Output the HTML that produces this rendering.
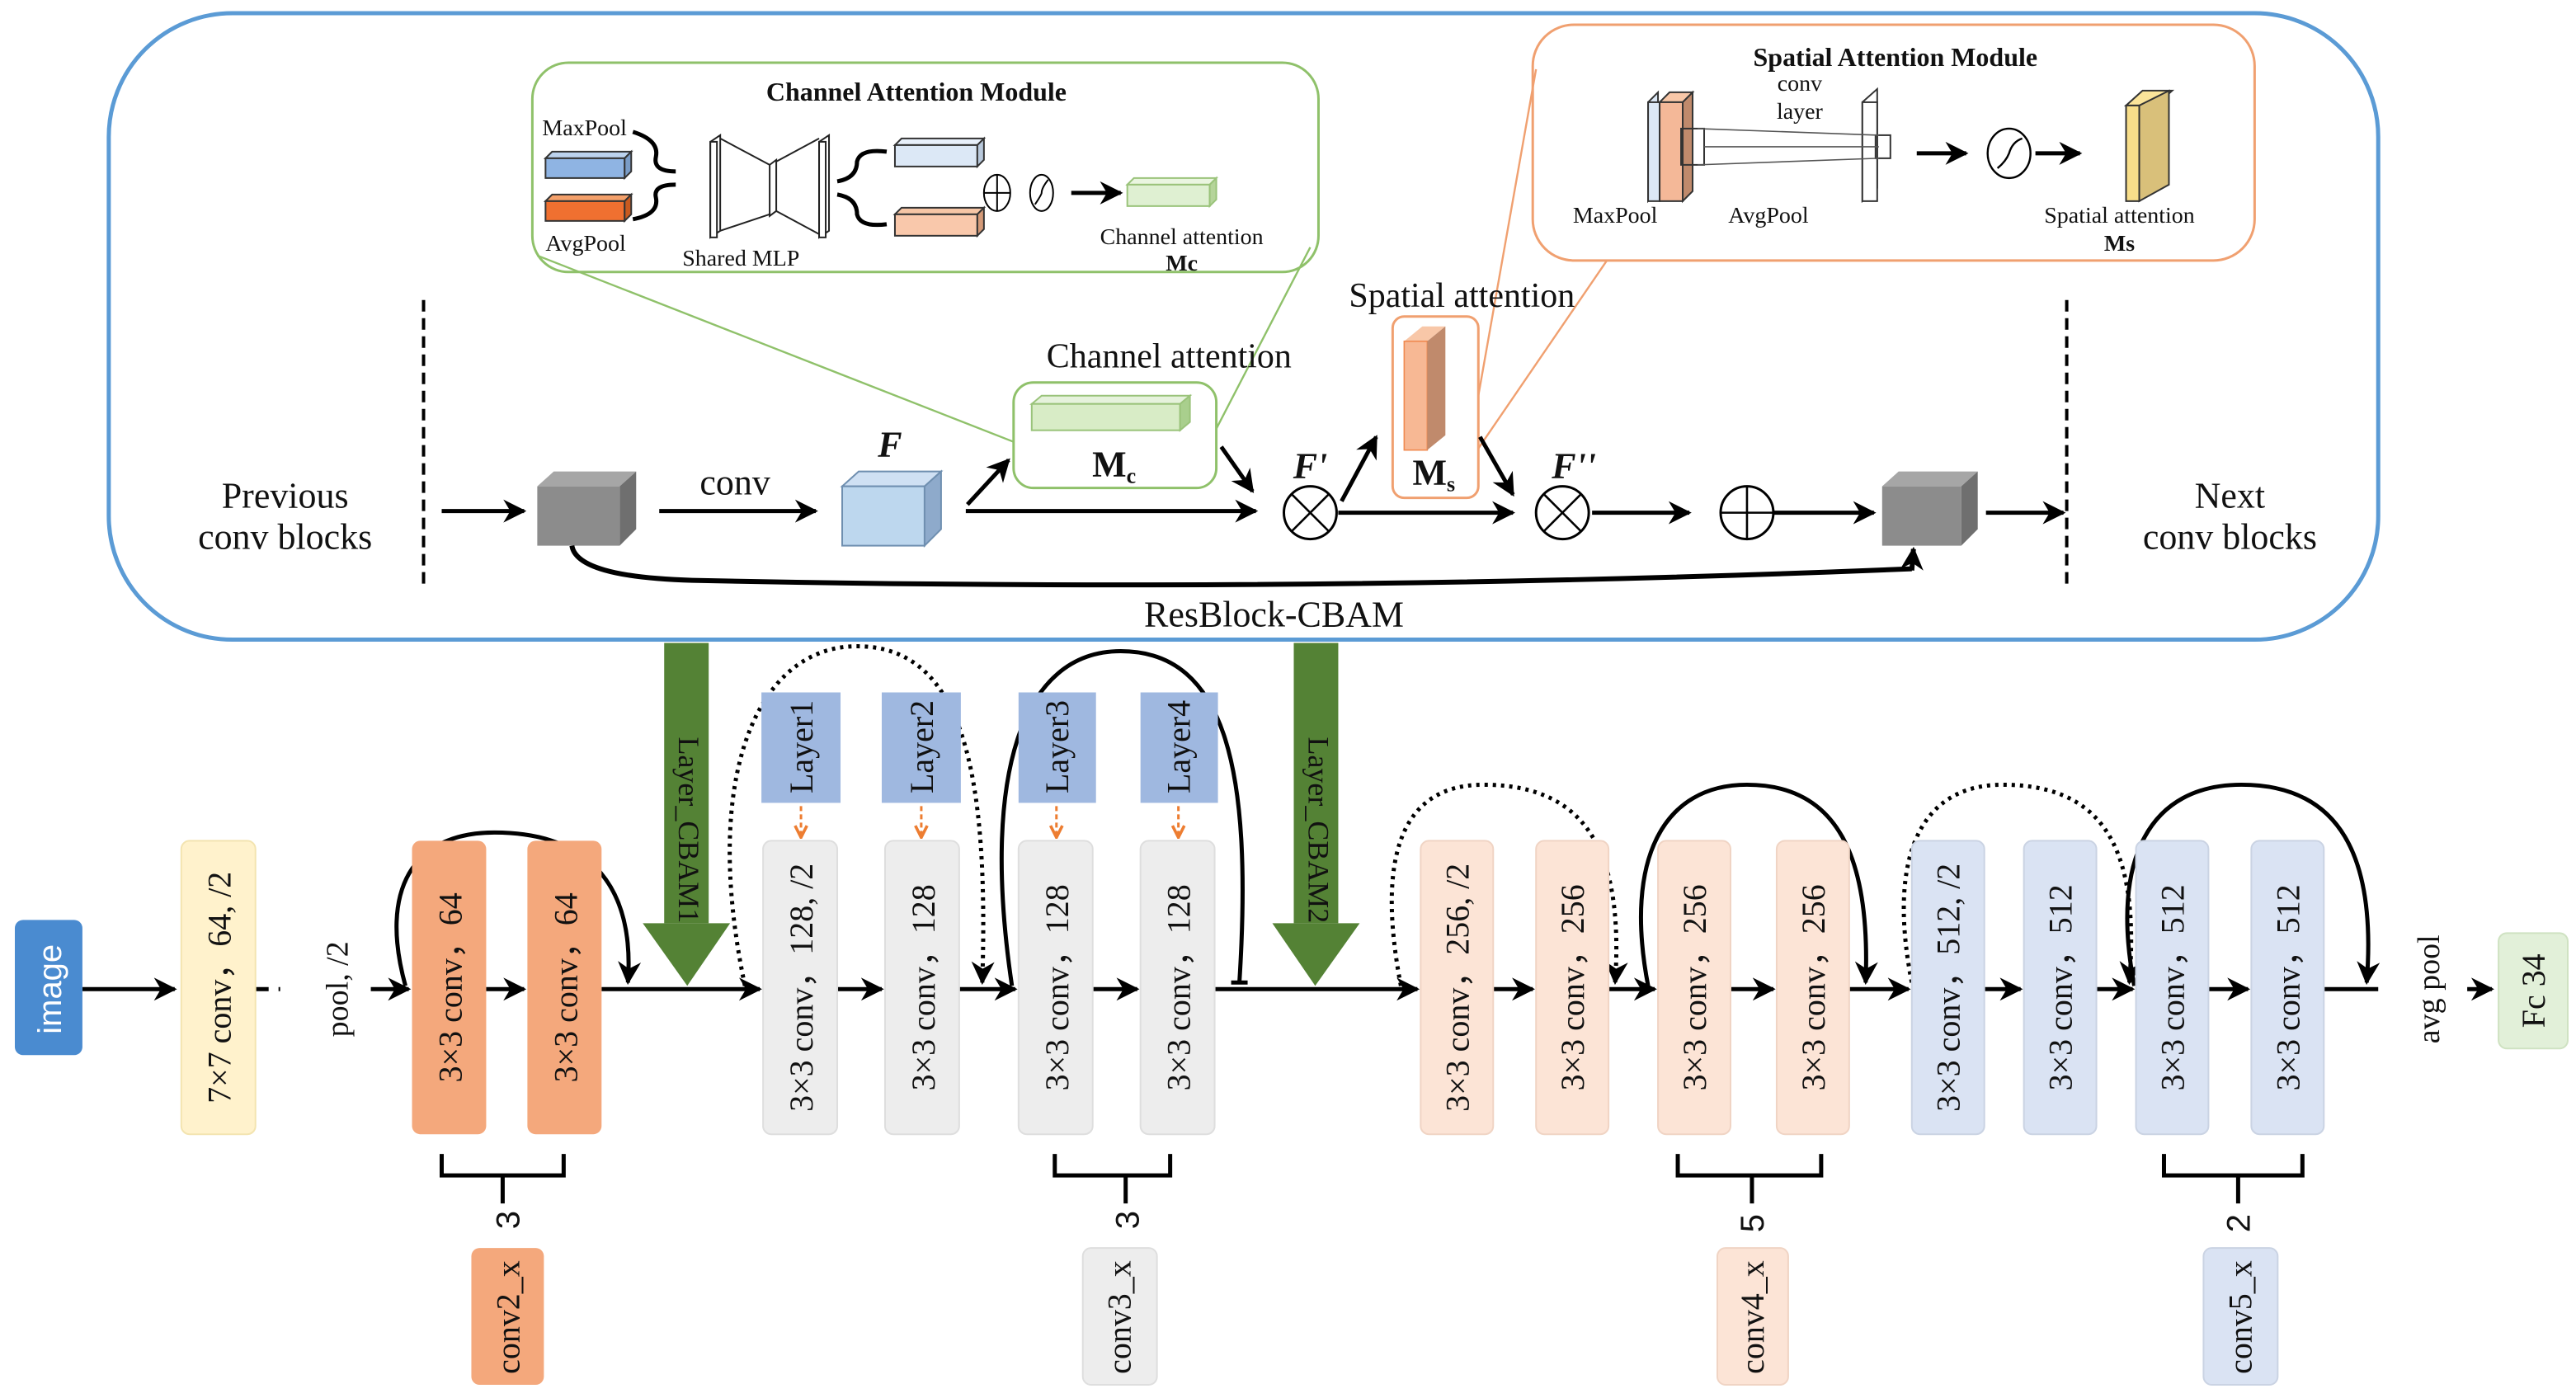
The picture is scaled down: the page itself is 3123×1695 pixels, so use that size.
<!DOCTYPE html>
<html><head><meta charset="utf-8"><style>
html,body{margin:0;padding:0;background:#fff}
svg{display:block}
text{font-family:"Liberation Serif",serif;fill:#111}
</style></head><body>
<svg width="3123" height="1695" viewBox="0 0 1563 848" preserveAspectRatio="none" xmlns="http://www.w3.org/2000/svg">
<defs>
<marker id="a" viewBox="0 0 10 10" refX="9" refY="5" markerWidth="5" markerHeight="5" orient="auto-start-reverse" markerUnits="userSpaceOnUse">
<path d="M0,0 L10,5 L0,10 L3,5 Z" fill="#000"/></marker>
<marker id="ab" viewBox="0 0 10 10" refX="9" refY="5" markerWidth="14" markerHeight="14" orient="auto" markerUnits="userSpaceOnUse">
<path d="M0,0 L10,5 L0,10 L3,5 Z" fill="#000"/></marker>
<marker id="ao" viewBox="0 0 10 10" refX="9" refY="5" markerWidth="9" markerHeight="9" orient="auto" markerUnits="userSpaceOnUse">
<path d="M1,1 L9,5 L1,9" fill="none" stroke="#ed7d31" stroke-width="2"/></marker>
</defs>

<!-- outer box -->
<rect x="66" y="8" width="1377" height="380" rx="75" fill="none" stroke="#5b9bd5" stroke-width="2.5"/>

<!-- CAM box -->
<rect x="323" y="38" width="477" height="127" rx="22" fill="none" stroke="#8fc16a" stroke-width="1.5"/>
<line x1="326" y1="155" x2="615" y2="268" stroke="#8fc16a" stroke-width="1.2"/>
<line x1="795" y1="150" x2="737" y2="262" stroke="#8fc16a" stroke-width="1.2"/>
<text x="556" y="61" font-size="16" font-weight="bold" text-anchor="middle">Channel Attention Module</text>
<text x="329" y="82" font-size="14">MaxPool</text>
<text x="331" y="152" font-size="14">AvgPool</text>
<text x="414" y="161" font-size="14">Shared MLP</text>
<!-- blue box -->
<polygon points="331,96 335,92 383,92 379,96" fill="#bcd3ee" stroke="#333" stroke-width="1"/>
<rect x="331" y="96" width="48" height="12" fill="#8fb4e3" stroke="#333" stroke-width="1"/>
<polygon points="379,96 383,92 383,104 379,108" fill="#7a9cc6" stroke="#333" stroke-width="1"/>
<polygon points="331,122 335,118 383,118 379,122" fill="#f4a06a" stroke="#333" stroke-width="1"/>
<rect x="331" y="122" width="48" height="12" fill="#f07030" stroke="#333" stroke-width="1"/>
<polygon points="379,122 383,118 383,130 379,134" fill="#c85a20" stroke="#333" stroke-width="1"/>
<path d="M384,80 Q400,85 398,95 Q396,104 410,104" fill="none" stroke="#000" stroke-width="2.5"/>
<path d="M384,133 Q400,130 398,120 Q396,112 410,112" fill="none" stroke="#000" stroke-width="2.5"/>
<!-- MLP -->
<g fill="none" stroke="#222" stroke-width="1">
<polygon points="431,86 437,82 437,140 431,144"/><rect x="431" y="86" width="4" height="58" fill="#fff"/>
<polygon points="467,100 471,97 471,128 467,131"/>
<polygon points="497,86 503,82 503,140 497,144"/><rect x="497" y="86" width="4" height="58" fill="#fff"/>
<line x1="437" y1="84" x2="467" y2="100"/><line x1="437" y1="140" x2="467" y2="130"/>
<line x1="471" y1="98" x2="497" y2="84"/><line x1="471" y1="128" x2="497" y2="142"/>
</g>
<path d="M508,110 Q520,108 520,98 Q522,90 538,92" fill="none" stroke="#000" stroke-width="2.5"/>
<path d="M508,118 Q520,120 520,130 Q522,138 538,136" fill="none" stroke="#000" stroke-width="2.5"/>
<polygon points="543,88 547,84 597,84 593,88" fill="#e8f0fa" stroke="#333" stroke-width="1"/>
<rect x="543" y="88" width="50" height="13" fill="#dce8f6" stroke="#333" stroke-width="1"/>
<polygon points="593,88 597,84 597,97 593,101" fill="#b9c9dc" stroke="#333" stroke-width="1"/>
<polygon points="543,130 547,126 597,126 593,130" fill="#f6c6a6" stroke="#333" stroke-width="1"/>
<rect x="543" y="130" width="50" height="13" fill="#f9c8ab" stroke="#333" stroke-width="1"/>
<polygon points="593,130 597,126 597,139 593,143" fill="#d49a78" stroke="#333" stroke-width="1"/>
<ellipse cx="605" cy="117" rx="8" ry="11" fill="none" stroke="#000" stroke-width="1"/>
<line x1="597" y1="117" x2="613" y2="117" stroke="#000"/><line x1="605" y1="106" x2="605" y2="128" stroke="#000"/>
<ellipse cx="632" cy="117" rx="7" ry="11" fill="none" stroke="#000" stroke-width="1"/>
<path d="M628,124 Q632,118 632,117 Q632,114 636,109" fill="none" stroke="#000"/>
<line x1="650" y1="117" x2="680" y2="117" stroke="#000" stroke-width="2.5" marker-end="url(#ab)"/>
<polygon points="684,112 688,108 738,108 734,112" fill="#eaf5e0" stroke="#9ac37a" stroke-width="1"/>
<rect x="684" y="112" width="50" height="13" fill="#dff0d2" stroke="#9ac37a" stroke-width="1"/>
<polygon points="734,112 738,108 738,121 734,125" fill="#b5d49a" stroke="#9ac37a" stroke-width="1"/>
<text x="717" y="148" font-size="14" text-anchor="middle">Channel attention</text>
<text x="717" y="164" font-size="14" font-weight="bold" text-anchor="middle">Mc</text>

<!-- SAM box -->
<rect x="930" y="15" width="438" height="143" rx="25" fill="none" stroke="#f0a070" stroke-width="1.5"/>
<line x1="932" y1="42" x2="897" y2="240" stroke="#f0a070" stroke-width="1.2"/>
<line x1="975" y1="158" x2="897" y2="272" stroke="#f0a070" stroke-width="1.2"/>
<text x="1150" y="40" font-size="16" font-weight="bold" text-anchor="middle">Spatial Attention Module</text>
<text x="1092" y="55" font-size="14" text-anchor="middle">conv</text>
<text x="1092" y="72" font-size="14" text-anchor="middle">layer</text>
<polygon points="1000,62 1006,56 1006,116 1000,122" fill="#dce8f6" stroke="#333" stroke-width="1"/>
<rect x="1000" y="62" width="7" height="60" fill="#dce8f6" stroke="#333" stroke-width="1"/>
<polygon points="1007,62 1013,56 1027,56 1021,62" fill="#f8c7a8" stroke="#333" stroke-width="1"/>
<rect x="1007" y="62" width="14" height="60" fill="#f4b898" stroke="#333" stroke-width="1"/>
<polygon points="1021,62 1027,56 1027,116 1021,122" fill="#c08a6c" stroke="#333" stroke-width="1"/>
<rect x="1020" y="78" width="14" height="22" fill="none" stroke="#333" stroke-width="1"/>
<polygon points="1130,62 1139,54 1139,114 1130,122" fill="#fff" stroke="#333" stroke-width="1"/>
<rect x="1130" y="62" width="9" height="60" fill="#fff" stroke="#333" stroke-width="1"/>
<rect x="1138" y="82" width="9" height="14" fill="none" stroke="#333" stroke-width="1"/>
<g stroke="#555" stroke-width="0.8"><line x1="1030" y1="78" x2="1140" y2="82"/><line x1="1030" y1="100" x2="1140" y2="96"/><line x1="1034" y1="89" x2="1140" y2="89"/></g>
<line x1="1163" y1="93" x2="1193" y2="93" stroke="#000" stroke-width="2.5" marker-end="url(#ab)"/>
<ellipse cx="1219" cy="93" rx="13" ry="15" fill="none" stroke="#000" stroke-width="1.2"/>
<path d="M1212,102 Q1217,98 1219,93 Q1221,86 1227,84" fill="none" stroke="#000" stroke-width="1.2"/>
<line x1="1235" y1="93" x2="1262" y2="93" stroke="#000" stroke-width="2.5" marker-end="url(#ab)"/>
<polygon points="1290,64 1300,55 1318,55 1308,64" fill="#fbe49a" stroke="#333" stroke-width="1"/>
<rect x="1290" y="64" width="8" height="58" fill="#f8de8a" stroke="#333" stroke-width="1"/>
<polygon points="1298,64 1316,55 1316,112 1298,122" fill="#d9c07a" stroke="#333" stroke-width="1"/>
<text x="980" y="135" font-size="14" text-anchor="middle">MaxPool</text>
<text x="1073" y="135" font-size="14" text-anchor="middle">AvgPool</text>
<text x="1286" y="135" font-size="14" text-anchor="middle">Spatial attention</text>
<text x="1286" y="152" font-size="14" font-weight="bold" text-anchor="middle">Ms</text>

<!-- main resblock row -->
<line x1="257" y1="182" x2="257" y2="358" stroke="#000" stroke-width="2" stroke-dasharray="7,4"/>
<line x1="1254" y1="182" x2="1254" y2="358" stroke="#000" stroke-width="2" stroke-dasharray="7,4"/>
<text x="173" y="308" font-size="22" text-anchor="middle">Previous</text>
<text x="173" y="333" font-size="22" text-anchor="middle">conv blocks</text>
<text x="1353" y="308" font-size="22" text-anchor="middle">Next</text>
<text x="1353" y="333" font-size="22" text-anchor="middle">conv blocks</text>
<line x1="268" y1="310" x2="318" y2="310" stroke="#000" stroke-width="2.5" marker-end="url(#ab)"/>
<!-- gray cube1 -->
<polygon points="326,295 336,286 386,286 376,295" fill="#a6a6a6"/>
<rect x="326" y="295" width="50" height="36" fill="#8c8c8c"/>
<polygon points="376,295 386,286 386,321 376,331" fill="#6f6f6f"/>
<text x="446" y="300" font-size="22" text-anchor="middle">conv</text>
<line x1="400" y1="310" x2="495" y2="310" stroke="#000" stroke-width="2.5" marker-end="url(#ab)"/>
<text x="540" y="277" font-size="22" font-weight="bold" font-style="italic" text-anchor="middle">F</text>
<polygon points="511,295 521,286 571,286 561,295" fill="#cfe0f3" stroke="#6f8fb0" stroke-width="1"/>
<rect x="511" y="295" width="50" height="36" fill="#bdd7ee" stroke="#6f8fb0" stroke-width="1"/>
<polygon points="561,295 571,286 571,321 561,331" fill="#8eaacb" stroke="#6f8fb0" stroke-width="1"/>
<line x1="586" y1="310" x2="762" y2="310" stroke="#000" stroke-width="2.5" marker-end="url(#ab)"/>
<line x1="587" y1="306" x2="612" y2="279" stroke="#000" stroke-width="2.5" marker-end="url(#ab)"/>
<text x="635" y="223" font-size="21" text-anchor="start">Channel attention</text>
<rect x="615" y="232" width="123" height="64" rx="12" fill="#fff" stroke="#8fc16a" stroke-width="1.5"/>
<polygon points="626,245 632,240 722,240 716,245" fill="#e6f2dc" stroke="#9ac37a" stroke-width="1"/>
<rect x="626" y="245" width="90" height="16" fill="#d8ecc6" stroke="#9ac37a" stroke-width="1"/>
<polygon points="716,245 722,240 722,256 716,261" fill="#a9cf8d" stroke="#9ac37a" stroke-width="1"/>
<text x="676" y="289" font-size="22" font-weight="bold" text-anchor="middle">M<tspan font-size="13" dy="4">c</tspan></text>
<line x1="741" y1="271" x2="760" y2="298" stroke="#000" stroke-width="2.5" marker-end="url(#ab)"/>
<circle cx="795" cy="311" r="16" fill="none" stroke="#000" stroke-width="1.5"/>
<line x1="784" y1="300" x2="806" y2="322" stroke="#000" stroke-width="1.3"/><line x1="806" y1="300" x2="784" y2="322" stroke="#000" stroke-width="1.3"/>
<text x="795" y="290" font-size="22" font-weight="bold" font-style="italic" text-anchor="middle">F'</text>
<line x1="812" y1="311" x2="918" y2="311" stroke="#000" stroke-width="2.5" marker-end="url(#ab)"/>
<line x1="814" y1="304" x2="835" y2="265" stroke="#000" stroke-width="2.5" marker-end="url(#ab)"/>
<text x="887" y="186" font-size="21" text-anchor="middle">Spatial attention</text>
<rect x="845" y="192" width="52" height="110" rx="7" fill="#fff" stroke="#f0a070" stroke-width="1.5"/>
<polygon points="852,207 863,198 877,198 866,207" fill="#f8c7a8"/>
<rect x="852" y="207" width="14" height="66" fill="#f7b894" stroke="#f08a50" stroke-width="0.8"/>
<polygon points="866,207 877,198 877,264 866,273" fill="#c08a6c"/>
<text x="870" y="294" font-size="22" font-weight="bold" text-anchor="middle">M<tspan font-size="13" dy="4">s</tspan></text>
<line x1="898" y1="265" x2="918" y2="300" stroke="#000" stroke-width="2.5" marker-end="url(#ab)"/>
<circle cx="948" cy="311" r="16" fill="none" stroke="#000" stroke-width="1.5"/>
<line x1="937" y1="300" x2="959" y2="322" stroke="#000" stroke-width="1.3"/><line x1="959" y1="300" x2="937" y2="322" stroke="#000" stroke-width="1.3"/>
<text x="955" y="290" font-size="22" font-weight="bold" font-style="italic" text-anchor="middle">F''</text>
<line x1="966" y1="311" x2="1025" y2="311" stroke="#000" stroke-width="2.5" marker-end="url(#ab)"/>
<circle cx="1060" cy="311" r="16" fill="none" stroke="#000" stroke-width="1.5"/>
<line x1="1044" y1="311" x2="1076" y2="311" stroke="#000" stroke-width="1.3"/><line x1="1060" y1="295" x2="1060" y2="327" stroke="#000" stroke-width="1.3"/>
<line x1="1076" y1="311" x2="1137" y2="311" stroke="#000" stroke-width="2.5" marker-end="url(#ab)"/>
<polygon points="1142,295 1152,286 1200,286 1190,295" fill="#a6a6a6"/>
<rect x="1142" y="295" width="48" height="36" fill="#8c8c8c"/>
<polygon points="1190,295 1200,286 1200,321 1190,331" fill="#6f6f6f"/>
<line x1="1205" y1="311" x2="1252" y2="311" stroke="#000" stroke-width="2.5" marker-end="url(#ab)"/>
<path d="M347,331 Q350,350 420,352 Q800,360 1160,345" fill="none" stroke="#000" stroke-width="3"/>
<line x1="1160" y1="346" x2="1161" y2="333" stroke="#000" stroke-width="3" marker-end="url(#ab)"/>
<text x="773" y="380" font-size="22" text-anchor="middle">ResBlock-CBAM</text>

<!-- green CBAM arrows -->
<rect x="403" y="390" width="27" height="170" fill="#548235"/>
<polygon points="390,560 443,560 417,598" fill="#548235"/>
<text transform="translate(412,447) rotate(90)" font-size="18" fill="#1a2a10">Layer_CBAM1</text>
<rect x="785" y="390" width="27" height="170" fill="#548235"/>
<polygon points="772,560 825,560 798,598" fill="#548235"/>
<text transform="translate(794,447) rotate(90)" font-size="18" fill="#1a2a10">Layer_CBAM2</text>

<!-- main line -->
<g stroke="#000" stroke-width="2.5" fill="none">
<line x1="50" y1="600" x2="106" y2="600" marker-end="url(#ab)"/>
<line x1="155" y1="600" x2="170" y2="600" stroke-dasharray="8,6"/>
<line x1="225" y1="600" x2="248" y2="600" marker-end="url(#ab)"/>
<line x1="295" y1="600" x2="318" y2="600" marker-end="url(#ab)"/>
<line x1="365" y1="600" x2="461" y2="600" marker-end="url(#ab)"/>
<line x1="508" y1="600" x2="535" y2="600" marker-end="url(#ab)"/>
<line x1="582" y1="600" x2="616" y2="600" marker-end="url(#ab)"/>
<line x1="663" y1="600" x2="690" y2="600" marker-end="url(#ab)"/>
<line x1="737" y1="600" x2="860" y2="600" marker-end="url(#ab)"/>
<line x1="906" y1="600" x2="930" y2="600" marker-end="url(#ab)"/>
<line x1="976" y1="600" x2="1004" y2="600" marker-end="url(#ab)"/>
<line x1="1050" y1="600" x2="1076" y2="600" marker-end="url(#ab)"/>
<line x1="1122" y1="600" x2="1158" y2="600" marker-end="url(#ab)"/>
<line x1="1204" y1="600" x2="1226" y2="600" marker-end="url(#ab)"/>
<line x1="1272" y1="600" x2="1294" y2="600" marker-end="url(#ab)"/>
<line x1="1340" y1="600" x2="1364" y2="600" marker-end="url(#ab)"/>
<line x1="1410" y1="600" x2="1443" y2="600"/>
<line x1="1497" y1="600" x2="1512" y2="600" marker-end="url(#ab)"/>
<!-- arcs -->
<path d="M246,598 C230,540 250,505 300,505 C360,505 385,540 381,596" marker-end="url(#ab)"/>
<path d="M452,598 C425,470 460,392 520,392 C585,392 600,470 596,596" stroke-dasharray="2,3" marker-end="url(#ab)"/>
<path d="M614,598 C595,470 620,395 680,395 C745,395 760,470 752,596"/>
<line x1="747" y1="596" x2="757" y2="596"/>
<path d="M850,598 C835,520 850,476 900,476 C965,476 985,520 980,596" stroke-dasharray="2,3" marker-end="url(#ab)"/>
<path d="M1000,598 C985,520 1010,476 1060,476 C1115,476 1135,520 1132,596" marker-end="url(#ab)"/>
<path d="M1160,596 C1145,520 1165,476 1215,476 C1280,476 1298,520 1292,596" stroke-dasharray="2,3" marker-end="url(#ab)"/>
<path d="M1295,598 C1280,520 1305,476 1360,476 C1420,476 1442,520 1436,596" marker-end="url(#ab)"/>
<!-- braces -->
<path d="M268,700 V713 H342 V700 M305,713 V730"/>
<path d="M640,700 V713 H710 V700 M683,713 V730"/>
<path d="M1018,700 V713 H1105 V700 M1063,713 V730"/>
<path d="M1313,700 V713 H1397 V700 M1358,713 V730"/>
</g>

<!-- image box -->
<rect x="9" y="558" width="41" height="82" rx="5" fill="#4a8bd0"/>
<text transform="translate(37,600) rotate(-90)" font-size="20" fill="#fff" style="fill:#fff;font-family:'Liberation Sans',sans-serif" text-anchor="middle">image</text>

<!-- boxes -->
<g stroke-width="1">
<rect x="110" y="510" width="45" height="178" rx="5" fill="#fff2cc" stroke="#f3e4b0"/>
<rect x="250" y="510" width="45" height="178" rx="5" fill="#f4a87c"/>
<rect x="320" y="510" width="45" height="178" rx="5" fill="#f4a87c"/>
<rect x="463" y="510" width="45" height="178" rx="5" fill="#ededed" stroke="#dedede"/>
<rect x="537" y="510" width="45" height="178" rx="5" fill="#ededed" stroke="#dedede"/>
<rect x="618" y="510" width="45" height="178" rx="5" fill="#ededed" stroke="#dedede"/>
<rect x="692" y="510" width="45" height="178" rx="5" fill="#ededed" stroke="#dedede"/>
<rect x="862" y="510" width="44" height="178" rx="5" fill="#fce4d6" stroke="#f0d4c4"/>
<rect x="932" y="510" width="44" height="178" rx="5" fill="#fce4d6" stroke="#f0d4c4"/>
<rect x="1006" y="510" width="44" height="178" rx="5" fill="#fce4d6" stroke="#f0d4c4"/>
<rect x="1078" y="510" width="44" height="178" rx="5" fill="#fce4d6" stroke="#f0d4c4"/>
<rect x="1160" y="510" width="44" height="178" rx="5" fill="#dae3f3" stroke="#cad3e3"/>
<rect x="1228" y="510" width="44" height="178" rx="5" fill="#dae3f3" stroke="#cad3e3"/>
<rect x="1296" y="510" width="44" height="178" rx="5" fill="#dae3f3" stroke="#cad3e3"/>
<rect x="1366" y="510" width="44" height="178" rx="5" fill="#dae3f3" stroke="#cad3e3"/>
<rect x="1516" y="566" width="42" height="70" rx="5" fill="#e2f0d9" stroke="#cfe2c2"/>
<rect x="462" y="420" width="48" height="67" fill="#9fb8e0"/>
<rect x="535" y="420" width="48" height="67" fill="#9fb8e0"/>
<rect x="618" y="420" width="47" height="67" fill="#9fb8e0"/>
<rect x="692" y="420" width="47" height="67" fill="#9fb8e0"/>
<rect x="286" y="757" width="44" height="83" rx="5" fill="#f4a87c"/>
<rect x="657" y="757" width="45" height="83" rx="5" fill="#ededed" stroke="#dedede"/>
<rect x="1042" y="757" width="43" height="83" rx="5" fill="#fce4d6" stroke="#f0d4c4"/>
<rect x="1337" y="757" width="45" height="83" rx="5" fill="#dae3f3" stroke="#cad3e3"/>
</g>
<g stroke="#ed7d31" stroke-width="1.5" stroke-dasharray="3,2">
<line x1="486" y1="489" x2="486" y2="508" marker-end="url(#ao)"/>
<line x1="559" y1="489" x2="559" y2="508" marker-end="url(#ao)"/>
<line x1="641" y1="489" x2="641" y2="508" marker-end="url(#ao)"/>
<line x1="715" y1="489" x2="715" y2="508" marker-end="url(#ao)"/>
</g>

<!-- rotated labels -->
<g font-size="20" text-anchor="middle">
<text transform="translate(140,599) rotate(-90)">7×7 conv，64, /2</text>
<text transform="translate(211,600) rotate(-90)" font-size="19">pool, /2</text>
<text transform="translate(280,599) rotate(-90)">3×3 conv，64</text>
<text transform="translate(350,599) rotate(-90)">3×3 conv，64</text>
<text transform="translate(493,599) rotate(-90)">3×3 conv，128, /2</text>
<text transform="translate(567,599) rotate(-90)">3×3 conv，128</text>
<text transform="translate(648,599) rotate(-90)">3×3 conv，128</text>
<text transform="translate(722,599) rotate(-90)">3×3 conv，128</text>
<text transform="translate(891,599) rotate(-90)">3×3 conv，256, /2</text>
<text transform="translate(961,599) rotate(-90)">3×3 conv，256</text>
<text transform="translate(1035,599) rotate(-90)">3×3 conv，256</text>
<text transform="translate(1107,599) rotate(-90)">3×3 conv，256</text>
<text transform="translate(1189,599) rotate(-90)">3×3 conv，512, /2</text>
<text transform="translate(1257,599) rotate(-90)">3×3 conv，512</text>
<text transform="translate(1325,599) rotate(-90)">3×3 conv，512</text>
<text transform="translate(1395,599) rotate(-90)">3×3 conv，512</text>
<text transform="translate(1480,600) rotate(-90)" font-size="19">avg pool</text>
<text transform="translate(1544,601) rotate(-90)">Fc 34</text>
<text transform="translate(493,453) rotate(-90)">Layer1</text>
<text transform="translate(566,453) rotate(-90)">Layer2</text>
<text transform="translate(648,453) rotate(-90)">Layer3</text>
<text transform="translate(722,453) rotate(-90)">Layer4</text>
<text transform="translate(315,740) rotate(-90)" style="font-family:'Liberation Sans',sans-serif">3</text>
<text transform="translate(691,740) rotate(-90)" style="font-family:'Liberation Sans',sans-serif">3</text>
<text transform="translate(1070,742) rotate(-90)" style="font-family:'Liberation Sans',sans-serif">5</text>
<text transform="translate(1365,742) rotate(-90)" style="font-family:'Liberation Sans',sans-serif">2</text>
<text transform="translate(315,799) rotate(-90)">conv2_x</text>
<text transform="translate(686,799) rotate(-90)">conv3_x</text>
<text transform="translate(1070,799) rotate(-90)">conv4_x</text>
<text transform="translate(1366,799) rotate(-90)">conv5_x</text>
</g>
</svg>
</body></html>
